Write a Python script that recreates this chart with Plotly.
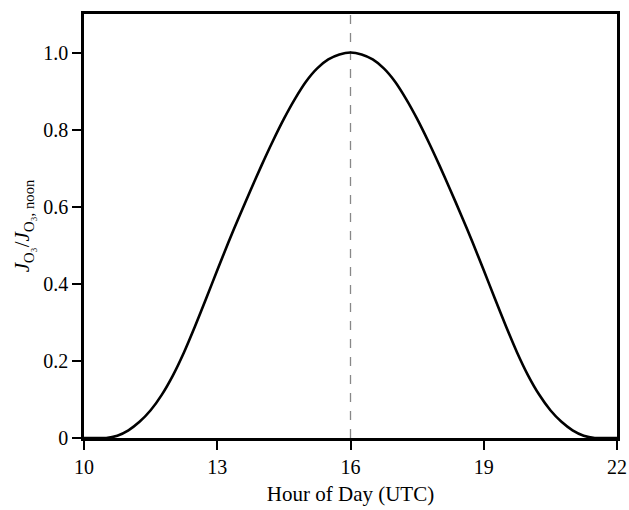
import plotly.graph_objects as go

hours = [10.0, 10.25, 10.5, 10.75, 11.0, 11.25, 11.5, 11.75, 12.0, 12.25, 12.5, 12.75,
         13.0, 13.25, 13.5, 13.75, 14.0, 14.25, 14.5, 14.75, 15.0, 15.25, 15.5, 15.75,
         16.0,
         16.25, 16.5, 16.75, 17.0, 17.25, 17.5, 17.75, 18.0, 18.25, 18.5, 18.75, 19.0,
         19.25, 19.5, 19.75, 20.0, 20.25, 20.5, 20.75, 21.0, 21.25, 21.5, 21.75, 22.0]
j_ratio = [0.0, 0.0, 0.0, 0.006, 0.020, 0.042, 0.072, 0.112, 0.162, 0.222, 0.290, 0.362,
           0.435, 0.507, 0.576, 0.643, 0.708, 0.770, 0.828, 0.880, 0.925, 0.959, 0.982, 0.995,
           1.0,
           0.995, 0.982, 0.959, 0.925, 0.880, 0.828, 0.770, 0.708, 0.643, 0.576, 0.507, 0.435,
           0.362, 0.290, 0.222, 0.162, 0.112, 0.072, 0.042, 0.020, 0.006, 0.0, 0.0, 0.0]
noon_hour = 16

x_ticks = [10, 13, 16, 19, 22]
y_ticks = [0, 0.2, 0.4, 0.6, 0.8, 1.0]
y_tick_text = ["0", "0.2", "0.4", "0.6", "0.8", "1.0"]

fig = go.Figure()
fig.add_trace(go.Scatter(
    x=[noon_hour, noon_hour], y=[0, 1.1], mode="lines",
    line=dict(color="#888888", width=1.3, dash="dash"), showlegend=False, hoverinfo="skip"))
fig.add_trace(go.Scatter(
    x=hours, y=j_ratio, mode="lines",
    line=dict(color="black", width=2.6, shape="spline", smoothing=0.8), showlegend=False))

font = dict(family="Liberation Serif, Times New Roman, serif", size=20, color="black")
title_font = dict(family="Liberation Serif, Times New Roman, serif", size=21, color="black")
axis_common = dict(showgrid=False, zeroline=False, showline=True, linecolor="black", linewidth=2.5,
                   mirror=True, ticks="outside", ticklen=9, tickwidth=2, tickcolor="black",
                   tickfont=font, automargin=False)
fig.update_xaxes(range=[10, 22], tickvals=x_ticks,
                 title=dict(text="Hour of Day (UTC)", font=title_font, standoff=10),
                 **axis_common)
fig.update_yaxes(range=[0, 1.1], tickvals=y_ticks, ticktext=y_tick_text,
                 title=dict(text="<i>J</i><sub>O₃</sub>/<i>J</i><sub>O₃, noon</sub>", font=title_font, standoff=8),
                 **axis_common)
fig.update_layout(width=629, height=510, margin=dict(l=84, r=12, t=14, b=72),
                  plot_bgcolor="white", paper_bgcolor="white", font=font)
fig.write_html("out.html", config={"displayModeBar": False},
               post_script="document.body.style.margin='0';document.body.style.padding='0';")
